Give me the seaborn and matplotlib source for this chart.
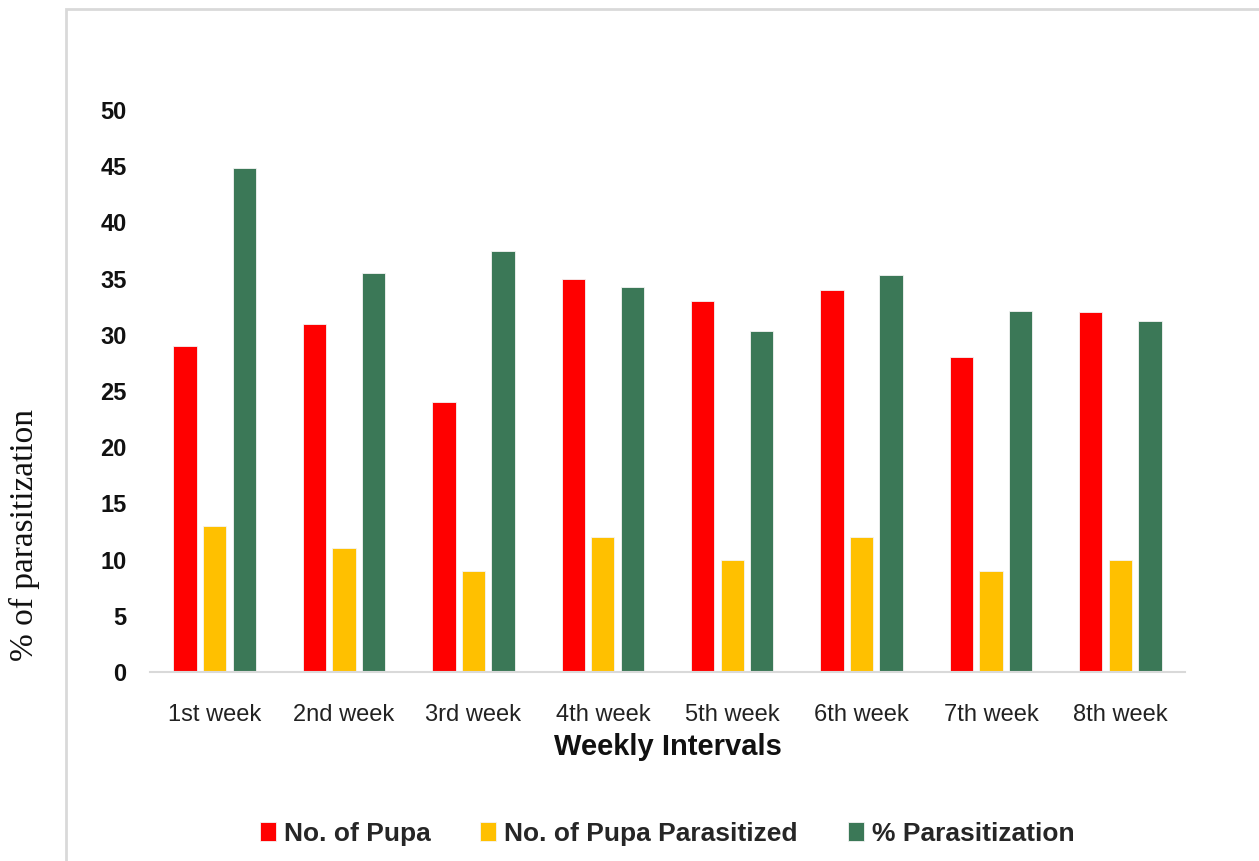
import matplotlib
matplotlib.use("Agg")
import matplotlib.pyplot as plt
import seaborn as sns
import pandas as pd
from matplotlib.patches import Rectangle

weeks = ["1st week", "2nd week", "3rd week", "4th week",
         "5th week", "6th week", "7th week", "8th week"]
no_of_pupa = [29, 31, 24, 35, 33, 34, 28, 32]
no_parasitized = [13, 11, 9, 12, 10, 12, 9, 10]
pct_parasitization = [44.83, 35.48, 37.5, 34.29, 30.30, 35.29, 32.14, 31.25]
series_names = ["No. of Pupa", "No. of Pupa Parasitized", "% Parasitization"]
colors = ["#FF0000", "#FFC000", "#3B7857"]
y_ticks = [0, 5, 10, 15, 20, 25, 30, 35, 40, 45, 50]

rows = []
for name, vals in zip(series_names, [no_of_pupa, no_parasitized, pct_parasitization]):
    for w, v in zip(weeks, vals):
        rows.append({"week": w, "series": name, "value": v})
df = pd.DataFrame(rows)

sns.set_theme(style="white")
plt.rcParams["font.family"] = ["Liberation Sans", "DejaVu Sans"]

fig = plt.figure(figsize=(12.59, 8.61), dpi=100)
ax = fig.add_axes([150/1259, 1-672/861, (1185-150)/1259, (672-110)/861])

sns.barplot(data=df, x="week", y="value", hue="series", order=weeks,
            hue_order=series_names, palette=colors, saturation=1,
            width=0.685, gap=0.21,
            edgecolor="#F4F4F4", linewidth=0.6, ax=ax, errorbar=None)

ax.set_ylim(0, 50)
ax.set_xlim(-0.5, len(weeks) - 0.5)
ax.set_yticks(y_ticks)
ax.set_yticklabels([str(t) for t in y_ticks], fontsize=17, fontweight="bold", color="#111111")
ax.tick_params(axis="y", length=0, pad=17)
ax.tick_params(axis="x", length=0, pad=23, labelsize=17, labelcolor="#222222")
for s in ["top", "right", "left"]:
    ax.spines[s].set_visible(False)
ax.spines["bottom"].set_color("#D9D9D9")
ax.spines["bottom"].set_linewidth(1.5)
ax.set_ylabel("")
ax.set_xlabel("Weekly Intervals", fontsize=21, fontweight="bold", labelpad=5, color="#111111")

handles, labels = ax.get_legend_handles_labels()
if ax.get_legend() is not None:
    ax.get_legend().remove()
fig.legend(handles, labels, loc="center", bbox_to_anchor=(667/1259, 1-834/861),
           ncol=3, frameon=False, handlelength=0.6, handleheight=0.75,
           handletextpad=0.3, columnspacing=1.9,
           prop={"family": ["Liberation Sans"], "weight": "bold", "size": 19})

fig.text(24/1259, 1-535/861, "% of parasitization", rotation=90, ha="center", va="center",
         fontsize=24, family=["Liberation Serif", "DejaVu Serif"], color="#111111")

# outer chart frame (left and top edges visible)
fig.patches.append(Rectangle((66/1259, -0.1), 1.2, 1-9/861+0.1, transform=fig.transFigure,
                             fill=False, edgecolor="#D9D9D9", linewidth=2, zorder=0))

fig.savefig("out.png", dpi=100)
